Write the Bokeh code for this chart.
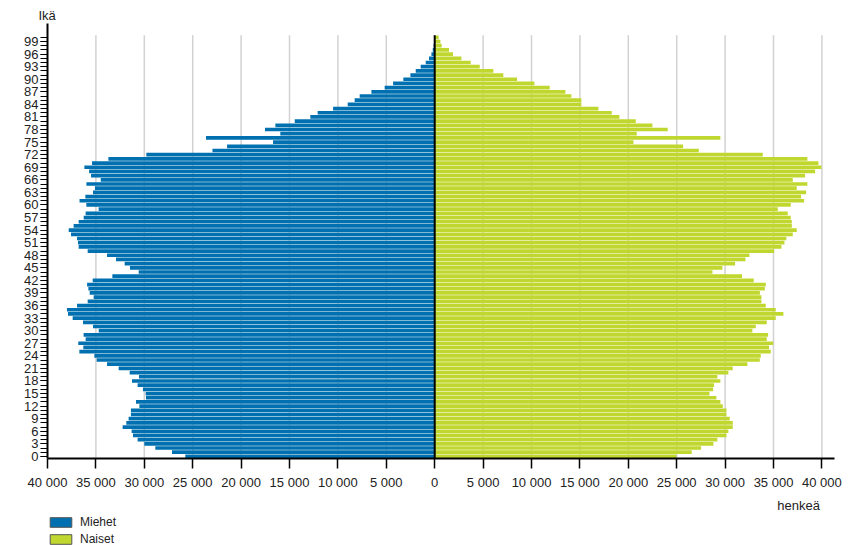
from bokeh.plotting import figure
from bokeh.layouts import column
from bokeh.models import (Range1d, FixedTicker, Legend, LegendItem, Title,
                          ColumnDataSource, LinearAxis)
from bokeh.embed import file_html
from bokeh.resources import INLINE

# ---- data ----
ages = list(range(0, 101))
miehet = [25760, 27140, 28860, 30000, 30690, 31170, 31310, 32240, 31860, 31620,
          31380, 31380, 30510, 30860, 29830, 29860, 30140, 30690, 31270, 30550,
          31510, 32650, 33850, 34920, 35160, 36710, 36300, 36820, 36060, 36270,
          34710, 35300, 36330, 37400, 37880, 37990, 36950, 35850, 35230, 35640,
          35780, 35910, 35330, 33300, 30580, 31480, 32030, 32920, 33850, 35850,
          36780, 36850, 36950, 37570, 37810, 37300, 36780, 36260, 36060, 34720,
          35990, 36690, 36090, 35300, 35100, 35980, 34500, 35500, 35700, 36190,
          35400, 33710, 29790, 22960, 21450, 16700, 23630, 15950, 17530, 16460,
          14460, 12850, 12090, 10500, 8990, 8270, 7750, 6540, 5170, 4300,
          3240, 2510, 1960, 1450, 930, 590, 340, 200, 120, 70, 50]
naiset = [24970, 26550, 27520, 28790, 29200, 30140, 30340, 30790, 30790, 30480,
          30140, 30140, 29760, 29510, 29100, 28380, 28760, 28860, 29510, 29200,
          30340, 30790, 32300, 33580, 33680, 34720, 34540, 34960, 34300, 34440,
          32820, 33170, 34300, 35230, 36020, 35230, 34200, 33750, 33750, 33590,
          34100, 34200, 32960, 31750, 28690, 29720, 31030, 32100, 32510, 35060,
          35820, 36130, 36330, 36990, 37400, 36890, 36890, 36780, 36470, 35440,
          36780, 38160, 37850, 38370, 37400, 38500, 36990, 38260, 39300, 39950,
          39640, 38500, 33890, 27280, 25660, 20530, 29510, 20870, 24070, 22490,
          20770, 19080, 18290, 16910, 15150, 15150, 14120, 13500, 11880, 10300,
          8510, 7090, 6060, 4650, 3720, 2760, 1890, 1480, 720, 590, 410]
x_ticks = list(range(-40000, 40001, 5000))
y_ticks = list(range(0, 100, 3))
series_names = ["Miehet", "Naiset"]
x_title = "henkeä"
y_title = "Ikä"

BLUE = "#0070B0"
GREEN = "#C0D72F"
TXT = "#222222"
FONT = "Liberation Sans"


def fmt(v):
    return f"{abs(v):,}".replace(",", " ")


p = figure(width=858, height=515, output_backend="svg", toolbar_location=None,
           x_range=Range1d(-40000, 41300), y_range=Range1d(-0.5, 103.3),
           min_border_left=47, min_border_right=24, min_border_top=23,
           min_border_bottom=57)
p.outline_line_color = None
p.xgrid.visible = False
p.ygrid.visible = False
p.background_fill_color = "white"
p.border_fill_color = "white"

# vertical gridlines at tick positions
grid_x = [t for t in x_ticks if t not in (-40000, 0)]
p.segment(x0=grid_x, y0=[-0.5] * len(grid_x), x1=grid_x, y1=[100.5] * len(grid_x),
          line_color="#d2d2d2", line_width=1.5)

src = ColumnDataSource(dict(age=ages,
                            m_left=[-v for v in miehet],
                            n_right=naiset,
                            zero=[0] * len(ages)))
p.hbar(y="age", left="m_left", right="zero", height=0.88, source=src,
       fill_color=BLUE, line_color=None)
p.hbar(y="age", left="zero", right="n_right", height=0.88, source=src,
       fill_color=GREEN, line_color=None)

# zero line
p.segment(x0=[0], y0=[-0.5], x1=[0], y1=[100.5], line_color="black", line_width=2)

# x axis
xa = p.xaxis[0]
xa.ticker = FixedTicker(ticks=x_ticks)
xa.major_label_overrides = {t: fmt(t) for t in x_ticks}
xa.axis_line_color = "black"
xa.axis_line_width = 2
xa.major_tick_in = 0
xa.major_tick_out = 10
xa.major_tick_line_color = "black"
xa.major_tick_line_width = 1.5
xa.minor_tick_out = 0
xa.minor_tick_in = 0
xa.major_label_standoff = 6
xa.major_label_text_font = FONT
xa.major_label_text_font_size = "13px"
xa.major_label_text_color = TXT

# y axis
ya = p.yaxis[0]
ya.ticker = FixedTicker(ticks=y_ticks, minor_ticks=ages)
ya.axis_line_color = "black"
ya.axis_line_width = 2
ya.major_tick_in = 0
ya.major_tick_out = 7
ya.minor_tick_in = 0
ya.minor_tick_out = 7
ya.major_tick_line_color = "black"
ya.minor_tick_line_color = "black"
ya.major_tick_line_width = 1
ya.minor_tick_line_width = 1
ya.major_label_standoff = 2
ya.major_label_text_font = FONT
ya.major_label_text_font_size = "13px"
ya.major_label_text_color = TXT

# y title above the axis
p.add_layout(Title(text=y_title, align="left", offset=-9, standoff=2,
                   text_font=FONT, text_font_size="13px", text_font_style="normal",
                   text_color=TXT), "above")

# x title ("henkeä") as a single label of an extra, line-less axis below
unit_pos = 37600
ua = LinearAxis(ticker=FixedTicker(ticks=[unit_pos]),
                major_label_overrides={unit_pos: x_title},
                axis_line_color=None, major_tick_in=0, major_tick_out=0,
                minor_tick_in=0, minor_tick_out=0, major_label_standoff=5,
                major_label_text_font=FONT, major_label_text_font_size="13px",
                major_label_text_color=TXT)
p.add_layout(ua, "below")

# legend strip under the chart (swatch renderers sit outside the visible range)
q = figure(width=858, height=30, output_backend="svg", toolbar_location=None,
           x_range=Range1d(0, 1), y_range=Range1d(0, 1),
           x_axis_location=None, y_axis_location=None,
           min_border_left=47, min_border_right=24, min_border_top=0,
           min_border_bottom=0)
q.outline_line_color = None
q.xgrid.visible = False
q.ygrid.visible = False
lm = q.hbar(y=[-10], left=[-10], right=[-9], height=0.5, fill_color=BLUE,
            line_color="#555555", line_width=1)
ln = q.hbar(y=[-10], left=[-10], right=[-9], height=0.5, fill_color=GREEN,
            line_color="#555555", line_width=1)
legend = Legend(items=[LegendItem(label=series_names[0], renderers=[lm]),
                       LegendItem(label=series_names[1], renderers=[ln])],
                location="top_left", orientation="vertical",
                glyph_width=27, glyph_height=12, label_height=12,
                label_standoff=6, spacing=3, padding=0, margin=0,
                border_line_color=None, background_fill_alpha=0,
                label_text_font=FONT, label_text_font_size="12px",
                label_text_color=TXT)
q.add_layout(legend, "center")

layout = column(p, q, spacing=0)
open("out.html", "w").write(file_html(layout, INLINE))
